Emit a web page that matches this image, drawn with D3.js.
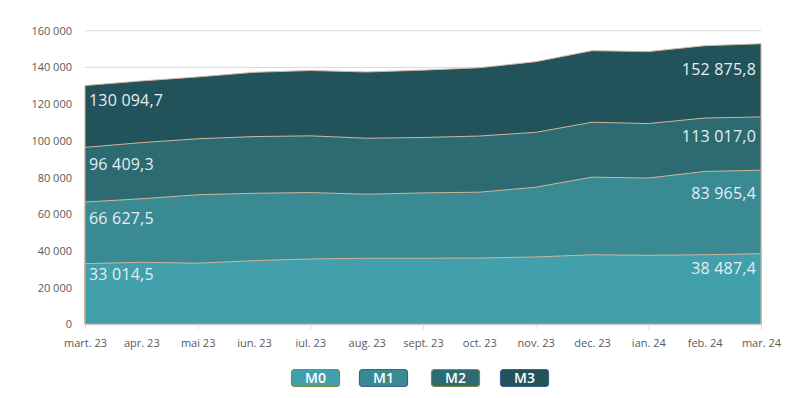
<!DOCTYPE html>
<html><head><meta charset="utf-8">
<script src="https://cdn.jsdelivr.net/npm/d3@7"></script>
<style>body{margin:0;background:#fff}svg{display:block;font-family:"Open Sans",sans-serif}</style>
</head><body><svg id="c" width="807" height="398"></svg>
<script>
const categories = ["mart. 23","apr. 23","mai 23","iun. 23","iul. 23","aug. 23","sept. 23","oct. 23","nov. 23","dec. 23","ian. 24","feb. 24","mar. 24"];
const M0 = [33014.5,33800,33300,34700,35600,36000,36000,36100,36700,37900,37600,37900,38487.4];
const M1 = [66627.5,68400,70600,71400,71800,70900,71600,72000,74700,80200,79700,83300,83965.4];
const M2 = [96409.3,99000,101100,102300,102700,101400,101800,102600,104600,110100,109400,112400,113017.0];
const M3 = [130094.7,132600,134800,137300,138300,137500,138500,139800,143100,149100,148600,151800,152875.8];
const seriesNames = ["M0","M1","M2","M3"];
const yTicks = [0,20000,40000,60000,80000,100000,120000,140000,160000];

// styles
const colors = {M0:"#41a0ac",M1:"#3a8a94",M2:"#2d6b72",M3:"#22525a"};
const legendBorder = {M0:"#7c8c3c",M1:"#3d5f8f",M2:"#7c8c3c",M3:"#3d5f8f"};
const labelDyLeft = {M0:11,M1:16,M2:17,M3:15};
const labelDyRight = {M0:15,M1:23,M2:19,M3:26};
const seriesData = {M0,M1,M2,M3};

const svg = d3.select("#c");
const x = d3.scalePoint().domain(categories).range([85,761]);
const y = d3.scaleLinear().domain([0,160000]).range([324.3,30.7]);
const fmt = v => d3.format(",.1f")(v).replace(/,/g," ").replace(".",",");
const fmtT = v => d3.format(",")(v).replace(/,/g," ");

// gridlines
svg.append("g").selectAll("line").data(yTicks.slice(1)).join("line")
  .attr("x1",85).attr("x2",761).attr("y1",d=>y(d)).attr("y2",d=>y(d))
  .attr("stroke","#d9d9d9").attr("stroke-width",1);

// areas: draw M3 first (back), M0 last (front)
const area = d3.area().x((d,i)=>x(categories[i])).y0(y(0)).y1(d=>y(d));
["M3","M2","M1","M0"].forEach(n=>{
  svg.append("path").datum(seriesData[n]).attr("d",area)
    .attr("fill",colors[n]).attr("stroke","#d2b59c").attr("stroke-width",1);
});

// x axis
const xAxis = d3.axisBottom(x).tickSize(5).tickFormat(d=>d);
const gx = svg.append("g").attr("transform",`translate(0,${y(0)})`).call(xAxis);
gx.select(".domain").attr("stroke","#d9d9d9").attr("d","M85,0.5H761");
gx.selectAll(".tick line").attr("stroke","#d9d9d9").attr("y1",0)
  .attr("opacity",(d,i)=>i%2===0?1:0);
gx.selectAll(".tick text").attr("fill","#595959").attr("font-size","11px")
  .attr("font-family","'Open Sans',sans-serif").attr("dy","1.3em");

// y axis
const yAxis = d3.axisLeft(y).tickValues(yTicks).tickSize(0).tickPadding(13).tickFormat(fmtT);
const gy = svg.append("g").attr("transform","translate(85,0)").call(yAxis);
gy.select(".domain").remove();
gy.selectAll(".tick text").attr("fill","#595959").attr("font-size","11px")
  .attr("font-family","'Open Sans',sans-serif");

// data labels
const last = categories.length-1;
seriesNames.forEach(n=>{
  const v = seriesData[n];
  svg.append("text").attr("x",x(categories[0])+4).attr("y",y(v[0])+labelDyLeft[n]).attr("dy","0.35em")
    .attr("fill","#e6eef2").attr("font-size","16px").attr("letter-spacing","0.2px").text(fmt(v[0]));
  svg.append("text").attr("x",x(categories[last])-5).attr("y",y(v[last])+labelDyRight[n]).attr("dy","0.35em")
    .attr("text-anchor","end").attr("fill","#e6eef2").attr("font-size","16px").attr("letter-spacing","0.2px").text(fmt(v[last]));
});

// legend
const lx = [291,359,431,500];
const lg = svg.append("g");
seriesNames.forEach((n,i)=>{
  const g = lg.append("g").attr("transform",`translate(${lx[i]},369)`);
  g.append("rect").attr("x",0.5).attr("y",0.5).attr("width",48).attr("height",17).attr("rx",3)
    .attr("fill",colors[n]).attr("stroke",legendBorder[n]).attr("stroke-width",1.2);
  g.append("text").attr("x",24.5).attr("y",9.5).attr("dy","0.35em").attr("text-anchor","middle")
    .attr("fill","#ffffff").attr("font-size","14px").attr("font-weight","600").text(n);
});
</script></body></html>
